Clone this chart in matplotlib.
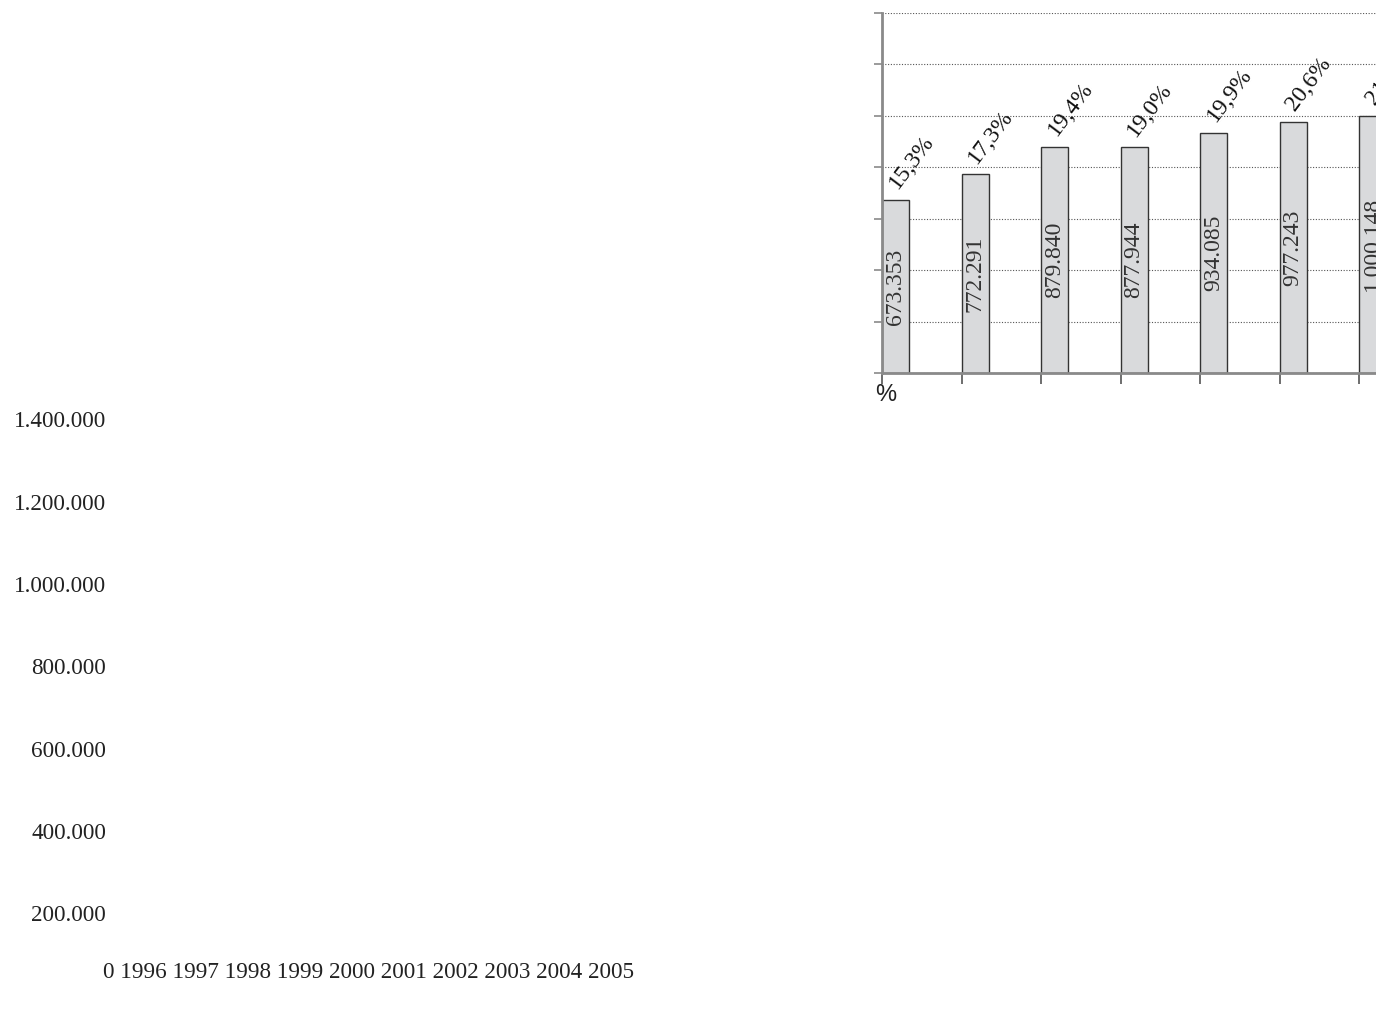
import numpy as np
import matplotlib
matplotlib.use("Agg")
import matplotlib.pyplot as plt

# Data
years = ["1996", "1997", "1998", "1999", "2000", "2001", "2002", "2003", "2004", "2005"]
totals = [673353, 772291, 879840, 877944, 934085, 977243, 1000148]
shares = ["15,3%", "17,3%", "19,4%", "19,0%", "19,9%", "20,6%", "21,1%"]
y_ticks = [0, 200000, 400000, 600000, 800000, 1000000, 1200000, 1400000]


def dotted(v):
    return f"{v:,}".replace(",", ".")


W, H = 1376, 1010
fig = plt.figure(figsize=(W / 100, H / 100), dpi=100)

serif = "Liberation Serif"
gray = "#8a8a8a"

# plot area (runs past the right edge of the page)
step = 79.5
ax = fig.add_axes([882 / W, (H - 373) / H, len(years) * step / W, 360 / H])
ax.set_xlim(0, len(years))
ax.set_ylim(0, y_ticks[-1])

x = np.arange(len(totals))
bars = ax.bar(x, totals, width=27 / step, align="edge", color="#d9dadc",
              edgecolor="#333333", linewidth=1.0, zorder=2)

ax.set_yticks(y_ticks)
ax.set_xticks(np.arange(len(years) + 1))
ax.set_yticklabels([])
ax.set_xticklabels([])
ax.grid(axis="y", linestyle=(0, (1, 1.5)), color="#555555", linewidth=0.8, zorder=1)
ax.tick_params(axis="y", length=6, width=1.2, color=gray, direction="out")
ax.tick_params(axis="x", length=8, width=1.2, color="#555555", direction="out")
for side in ["top", "right"]:
    ax.spines[side].set_visible(False)
for side in ["left", "bottom"]:
    ax.spines[side].set_color(gray)
    ax.spines[side].set_linewidth(2)

# value inside each bar, share above it
for b, v, s in zip(bars, totals, shares):
    cx = b.get_x() + b.get_width() / 2
    ax.text(cx, v / 2, dotted(v), rotation=90, ha="center", va="center",
            family=serif, fontsize=17, color="#333333", zorder=3)
    ax.annotate(s, (cx, v), xytext=(2, 10), textcoords="offset pixels",
                rotation=53, rotation_mode="anchor", ha="left", va="baseline",
                family=serif, fontsize=17, color="#111111", annotation_clip=False)

fig.text(875 / W, 1 - 395 / H, "%", family="Liberation Sans", fontsize=17,
         ha="left", va="center", color="#222222")

# axis labels set as loose text lines down the left side
for i, v in enumerate(y_ticks[1:][::-1]):
    fig.text(106 / W, 1 - (422 + i * 82.3) / H, dotted(v), family=serif,
             fontsize=16.7, ha="right", va="center", color="#222222")
fig.text(103 / W, 1 - 972 / H, " ".join(["0"] + years), family=serif,
         fontsize=16.7, ha="left", va="center", color="#222222")

fig.savefig("out.png", dpi=100)
